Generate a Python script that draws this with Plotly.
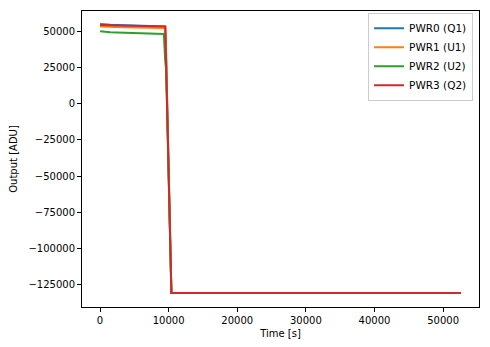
import plotly.graph_objects as go

time_s = [0, 500, 1500, 2500, 3500, 4500, 5500, 6500, 7500, 8500, 9300, 9500,
          9600, 9700, 9800, 9900, 10000, 10100, 10200, 10300, 10400,
          15000, 25000, 35000, 45000, 52600]

pwr0_q1 = [54800, 54500, 54300, 54200, 54000, 53900, 53700, 53600, 53500, 53400, 53300, 53200,
           40000, 20000, 0, -25000, -50000, -75000, -100000, -120000, -130500,
           -130500, -130500, -130500, -130500, -130500]
pwr1_u1 = [53200, 53000, 52800, 52700, 52600, 52500, 52400, 52300, 52200, 52100, 52000, 52000,
           38000, 18000, -2000, -28000, -52000, -78000, -102000, -122000, -130500,
           -130500, -130500, -130500, -130500, -130500]
pwr2_u2 = [49800, 49500, 49200, 49000, 48900, 48700, 48500, 48300, 48200, 48000, 47900, 29000,
           25000, 8000, -12000, -35000, -60000, -90000, -95000, -118000, -130500,
           -130500, -130500, -130500, -130500, -130500]
pwr3_q2 = [54200, 54000, 53900, 53800, 53700, 53600, 53500, 53500, 53400, 53300, 53300, 53200,
           35000, 12000, -10000, -32000, -58000, -82000, -105000, -124000, -130500,
           -130500, -130500, -130500, -130500, -130500]

names = ["PWR0 (Q1)", "PWR1 (U1)", "PWR2 (U2)", "PWR3 (Q2)"]
series = [pwr0_q1, pwr1_u1, pwr2_u2, pwr3_q2]
colors = ["#1f77b4", "#ff7f0e", "#2ca02c", "#d62728"]

fig = go.Figure()
for n, s, c in zip(names, series, colors):
    fig.add_trace(go.Scatter(x=time_s, y=s, mode="lines", name=n,
                             line=dict(color=c, width=2)))

axis_common = dict(showline=True, linecolor="black", linewidth=1, mirror=True,
                   ticks="outside", ticklen=4, tickcolor="black", showgrid=False,
                   zeroline=False, tickformat="d", automargin=False,
                   tickfont=dict(family="DejaVu Sans", size=10, color="black"))

fig.update_layout(
    width=490, height=347,
    margin=dict(l=82, r=11, t=11, b=40),
    paper_bgcolor="white", plot_bgcolor="white",
    font=dict(family="DejaVu Sans", size=10, color="black"),
    xaxis=dict(range=[-2630, 55230], dtick=10000, tick0=0,
               title=dict(text="Time [s]", standoff=4, font=dict(size=10)), **axis_common),
    yaxis=dict(range=[-140200, 63800], dtick=25000, tick0=0,
               title=dict(text="Output [ADU]", standoff=8, font=dict(size=10)), **axis_common),
    legend=dict(x=0.985, y=0.994, xanchor="right", yanchor="top",
                bordercolor="#cccccc", borderwidth=1, bgcolor="rgba(255,255,255,0.8)",
                font=dict(size=10.5), itemwidth=30, tracegroupgap=0),
    showlegend=True,
)

fig.write_html("out.html", config={"displayModeBar": False},
               post_script="document.body.style.margin='0';document.body.style.overflow='hidden';")
